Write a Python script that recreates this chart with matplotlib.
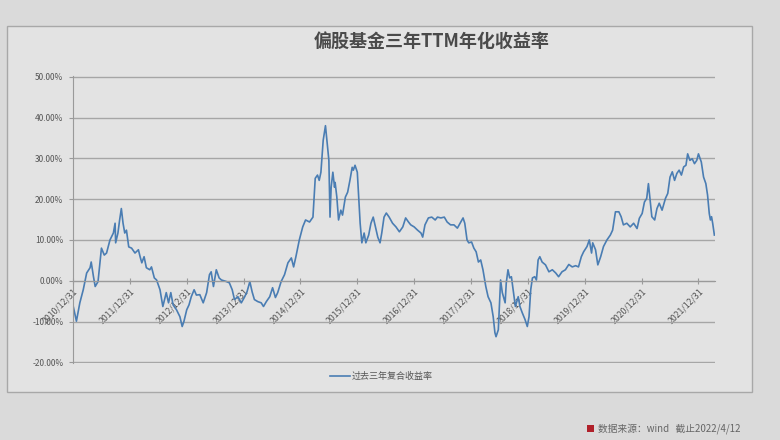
import matplotlib
matplotlib.use("Agg")
import matplotlib.pyplot as plt
from matplotlib.patches import Rectangle
from matplotlib.ticker import FuncFormatter

plt.rcParams['font.family'] = ['Noto Sans CJK SC', 'DejaVu Sans']

# x = decimal year (2011.00 = 2010/12/31), y = trailing 3y annualised return, %
years = [
    2011.00, 2011.06, 2011.12, 2011.18, 2011.24, 2011.30, 2011.32, 2011.36, 2011.39, 2011.44,
    2011.50, 2011.55, 2011.59, 2011.65, 2011.71, 2011.74, 2011.75, 2011.79, 2011.82, 2011.85,
    2011.88, 2011.91, 2011.94, 2011.98, 2012.03, 2012.09, 2012.15, 2012.18, 2012.21, 2012.25,
    2012.29, 2012.35, 2012.38, 2012.43, 2012.47, 2012.53, 2012.58, 2012.61, 2012.64, 2012.68,
    2012.72, 2012.76, 2012.82, 2012.88, 2012.92, 2012.95, 2013.00, 2013.04, 2013.08, 2013.13,
    2013.17, 2013.23, 2013.29, 2013.35, 2013.40, 2013.43, 2013.47, 2013.52, 2013.57, 2013.61,
    2013.70, 2013.75, 2013.80, 2013.84, 2013.90, 2013.96, 2014.02, 2014.06, 2014.11, 2014.15,
    2014.19, 2014.25, 2014.31, 2014.35, 2014.40, 2014.46, 2014.51, 2014.56, 2014.60, 2014.66,
    2014.72, 2014.78, 2014.84, 2014.88, 2014.92, 2014.98, 2015.04, 2015.09, 2015.16, 2015.22,
    2015.26, 2015.30, 2015.33, 2015.36, 2015.40, 2015.44, 2015.46, 2015.50, 2015.52, 2015.54,
    2015.57, 2015.60, 2015.61, 2015.64, 2015.67, 2015.71, 2015.74, 2015.79, 2015.83, 2015.87,
    2015.91, 2015.93, 2015.96, 2016.00, 2016.02, 2016.05, 2016.08, 2016.12, 2016.15, 2016.20,
    2016.24, 2016.28, 2016.32, 2016.36, 2016.40, 2016.43, 2016.47, 2016.51, 2016.56, 2016.62,
    2016.68, 2016.74, 2016.80, 2016.85, 2016.90, 2016.94, 2017.00, 2017.06, 2017.12, 2017.15,
    2017.19, 2017.25, 2017.31, 2017.37, 2017.41, 2017.47, 2017.53, 2017.58, 2017.64, 2017.70,
    2017.76, 2017.82, 2017.86, 2017.89, 2017.93, 2017.96, 2018.01, 2018.05, 2018.09, 2018.13,
    2018.17, 2018.21, 2018.26, 2018.30, 2018.35, 2018.39, 2018.42, 2018.44, 2018.48, 2018.52,
    2018.55, 2018.60, 2018.62, 2018.65, 2018.68, 2018.71, 2018.74, 2018.78, 2018.83, 2018.86,
    2018.90, 2018.95, 2018.99, 2019.02, 2019.05, 2019.08, 2019.12, 2019.15, 2019.18, 2019.21,
    2019.25, 2019.31, 2019.37, 2019.43, 2019.49, 2019.54, 2019.60, 2019.66, 2019.72, 2019.78,
    2019.84, 2019.89, 2019.94, 2019.98, 2020.04, 2020.08, 2020.12, 2020.14, 2020.19, 2020.23,
    2020.28, 2020.33, 2020.39, 2020.45, 2020.49, 2020.54, 2020.60, 2020.64, 2020.68, 2020.74,
    2020.80, 2020.86, 2020.92, 2020.96, 2021.01, 2021.05, 2021.09, 2021.12, 2021.15, 2021.18,
    2021.23, 2021.27, 2021.31, 2021.36, 2021.42, 2021.46, 2021.50, 2021.54, 2021.58, 2021.62,
    2021.66, 2021.70, 2021.74, 2021.78, 2021.81, 2021.85, 2021.89, 2021.93, 2021.97, 2022.00,
    2022.05, 2022.09, 2022.13, 2022.16, 2022.19, 2022.21, 2022.23, 2022.25, 2022.28,
]
ttm_return = [
    -6.0, -9.9, -5.4, -2.2, 1.9, 3.2, 4.6, 1.0, -1.4, -0.2,
    8.0, 6.3, 6.8, 10.0, 11.7, 14.1, 9.3, 11.7, 14.9, 17.7,
    14.1, 11.7, 12.4, 8.3, 8.0, 6.8, 7.6, 5.9, 4.4, 5.9,
    3.2, 2.7, 3.4, 0.7, 0.2, -2.2, -6.3, -4.6, -2.9, -5.4,
    -2.9, -5.9, -7.1, -8.8, -11.2, -10.0, -7.1, -5.9, -3.9, -2.2,
    -3.5, -3.4, -5.4, -2.9, 1.5, 2.2, -1.4, 2.7, 0.7, 0.2,
    -0.2, -0.5, -2.2, -4.6, -3.9, -5.4, -3.9, -2.7, -0.2, -2.7,
    -4.6, -5.1, -5.4, -6.3, -5.1, -3.9, -1.7, -4.1, -2.9, -0.2,
    1.5, 4.4, 5.6, 3.4, 5.9, 10.0, 13.2, 14.9, 14.4, 15.6,
    25.1, 25.9, 24.6, 26.6, 34.4, 38.0, 35.1, 29.5, 15.6, 22.9,
    26.6, 22.9, 24.1, 20.5, 14.9, 17.3, 16.1, 20.5, 21.7, 24.6,
    27.8, 27.1, 28.3, 26.6, 21.5, 14.1, 9.3, 11.7, 9.3, 11.2,
    14.1, 15.6, 13.2, 10.7, 9.3, 11.7, 15.6, 16.6, 15.6, 14.1,
    13.2, 12.0, 13.2, 15.4, 14.4, 13.7, 13.2, 12.4, 11.7, 10.7,
    13.7, 15.4, 15.6, 14.9, 15.6, 15.4, 15.6, 14.4, 13.7, 13.7,
    12.9, 14.4, 15.4, 14.1, 10.0, 9.3, 9.5, 8.0, 7.1, 4.6,
    5.1, 2.7, -1.4, -3.9, -5.4, -8.8, -12.7, -13.7, -12.0, 0.2,
    -2.9, -5.4, -0.5, 2.7, 0.7, 1.0, -2.2, -6.3, -3.9, -6.3,
    -7.8, -9.5, -11.2, -8.8, -2.2, 0.7, 1.0, 0.2, 5.1, 5.9,
    4.6, 3.9, 2.2, 2.7, 1.9, 1.0, 2.2, 2.7, 4.0, 3.4,
    3.7, 3.4, 5.9, 7.1, 8.4, 10.0, 6.8, 9.3, 7.6, 3.9,
    5.9, 8.4, 10.0, 11.2, 12.4, 16.9, 16.9, 15.7, 13.7, 14.1,
    13.2, 14.1, 12.8, 15.3, 16.5, 19.3, 20.2, 23.8, 19.8, 15.7,
    14.9, 17.7, 19.0, 17.3, 20.2, 21.4, 25.4, 26.7, 24.6, 26.3,
    27.1, 25.9, 27.9, 28.3, 31.1, 29.5, 29.9, 28.7, 29.5, 31.1,
    29.1, 25.4, 23.8, 21.0, 16.5, 14.9, 15.7, 14.1, 11.2,
]

tick_labels = ["2010/12/31", "2011/12/31", "2012/12/31", "2013/12/31", "2014/12/31", "2015/12/31",
               "2016/12/31", "2017/12/31", "2018/12/31", "2019/12/31", "2020/12/31", "2021/12/31"]
y_ticks = [-20, -10, 0, 10, 20, 30, 40, 50]

title = "偏股基金三年TTM年化收益率"
series_name = "过去三年复合收益率"
source_note = "数据来源：wind   截止2022/4/12"

fig = plt.figure(figsize=(7.8, 4.4), dpi=100)
fig.patch.set_facecolor("#dadada")

# chart panel behind the axes
fig.patches.append(Rectangle((0.009, 0.109), 0.955, 0.832, transform=fig.transFigure,
                             facecolor="#e3e3e3", edgecolor="#a8a8a8", linewidth=1.0, zorder=-10))

ax = fig.add_axes([0.0936, 0.174, 0.823, 0.654])
ax.set_facecolor("none")

# x axis crosses at 0 (set before tick labels, it resets them)
ax.spines["bottom"].set_position(("data", 0))
ax.spines["bottom"].set_color("#9a9a9a")
ax.spines["left"].set_color("#9a9a9a")
ax.spines["top"].set_visible(False)
ax.spines["right"].set_visible(False)

ax.plot(years, ttm_return, color="#4a7db3", linewidth=1.2, label=series_name)

ax.set_xlim(2011.0, 2022.29)
ax.set_ylim(-20.25, 50.25)
ax.set_yticks(y_ticks)
ax.yaxis.set_major_formatter(FuncFormatter(lambda v, p: f"{v:.2f}%"))
ax.grid(axis="y", color="#a6a6a6", linewidth=1.0)
ax.set_axisbelow(True)

tick_pos = [int(t[:4]) + 1 for t in tick_labels]
ax.set_xticks(tick_pos)
ax.set_xticklabels(tick_labels)
ax.tick_params(axis="x", direction="inout", length=4, color="#9a9a9a", pad=2,
               labelsize=6.3, labelcolor="#555555", labelrotation=45)
plt.setp(ax.get_xticklabels(), ha="right", va="top", rotation_mode="anchor")
ax.tick_params(axis="y", length=3, color="#9a9a9a", labelsize=6, labelcolor="#555555", pad=4)

fig.text(0.553, 0.905, title, ha="center", va="center", fontsize=13, color="#4a4a4a",
         fontweight="bold")

leg = ax.legend(loc="upper center", bbox_to_anchor=(0.48, 0.0), frameon=False, fontsize=6.5,
                handlelength=2.2, handletextpad=0.2)
for t in leg.get_texts():
    t.set_color("#555555")

fig.patches.append(Rectangle((0.752, 0.019), 0.009, 0.016, transform=fig.transFigure,
                             facecolor="#b0202a", edgecolor="none"))
fig.text(0.767, 0.026, source_note, ha="left", va="center", fontsize=7, color="#666666")

fig.savefig("out.png", dpi=100)
